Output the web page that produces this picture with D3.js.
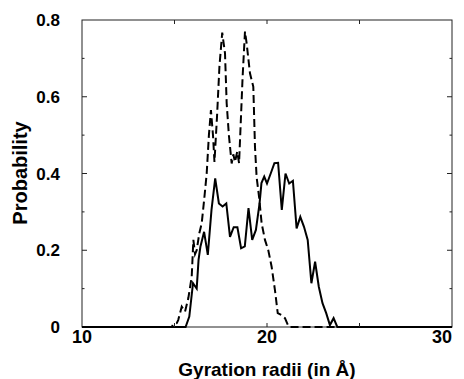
<!DOCTYPE html>
<html><head><meta charset="utf-8">
<script src="https://cdn.jsdelivr.net/npm/d3@7"></script>
<style>html,body{margin:0;padding:0;background:#fff}svg{display:block}text{font-family:"Liberation Sans",Arial,sans-serif;font-weight:bold}</style>
</head><body><svg id="c" width="464" height="379"></svg>
<script>
// Solid curve (radius in Å, probability)
const solidX = [10, 15.6, 15.8, 16.0, 16.2, 16.3, 16.4, 16.6, 16.8, 17.0, 17.2, 17.4, 17.6, 17.8, 18.0, 18.2, 18.4, 18.6, 18.8, 19.0, 19.2, 19.4, 19.6, 19.7, 19.85, 20.0, 20.2, 20.4, 20.6, 20.8, 21.0, 21.2, 21.4, 21.6, 21.8, 22.0, 22.2, 22.4, 22.6, 22.8, 23.0, 23.2, 23.4, 23.6, 23.8, 30];
const solidY = [0, 0, 0.027, 0.114, 0.10, 0.175, 0.209, 0.248, 0.188, 0.305, 0.387, 0.322, 0.314, 0.322, 0.235, 0.26, 0.26, 0.205, 0.21, 0.31, 0.227, 0.253, 0.323, 0.375, 0.392, 0.374, 0.40, 0.427, 0.428, 0.305, 0.40, 0.374, 0.381, 0.257, 0.287, 0.261, 0.227, 0.114, 0.170, 0.105, 0.062, 0.036, 0.005, 0.023, 0, 0];
// Dashed curve
const dashX = [10, 14.85, 14.94, 15.12, 15.2, 15.39, 15.57, 15.75, 15.93, 16.02, 16.11, 16.2, 16.34, 16.47, 16.6, 16.74, 16.86, 16.97, 17.08, 17.16, 17.3, 17.43, 17.58, 17.73, 17.82, 17.94, 18.09, 18.18, 18.27, 18.39, 18.49, 18.57, 18.68, 18.81, 18.9, 19.08, 19.26, 19.35, 19.44, 19.57, 19.71, 19.89, 20.07, 20.25, 20.43, 20.58, 20.79, 20.97, 21.15, 21.24, 30];
const dashY = [0, 0, 0.008, 0.01, 0.018, 0.053, 0.04, 0.076, 0.131, 0.227, 0.19, 0.20, 0.244, 0.27, 0.33, 0.40, 0.50, 0.565, 0.50, 0.43, 0.55, 0.68, 0.767, 0.713, 0.583, 0.50, 0.426, 0.45, 0.43, 0.457, 0.427, 0.52, 0.65, 0.77, 0.739, 0.661, 0.626, 0.47, 0.39, 0.34, 0.27, 0.227, 0.20, 0.157, 0.096, 0.036, 0.031, 0.023, 0.003, 0, 0];
const xTickLabels = [10, 20, 30];
const xTicksAll = [15, 20, 25];
const yTickLabels = [0, 0.2, 0.4, 0.6, 0.8];
const yMinorTicks = [0.1, 0.3, 0.5, 0.7];

const svg = d3.select("#c");
const L = 82, R = 452, T = 20, B = 327;
const x = d3.scaleLinear().domain([10, 30]).range([L, R]);
const y = d3.scaleLinear().domain([0, 0.8]).range([B, T]);

const line = d3.line().x(d => x(d[0])).y(d => y(d[1]));
const solid = solidX.map((v, i) => [v, solidY[i]]);
const dashed = dashX.map((v, i) => [v, dashY[i]]);

// frame
svg.append("rect").attr("x", L).attr("y", T).attr("width", R - L).attr("height", B - T)
  .attr("fill", "none").attr("stroke", "#222").attr("stroke-width", 1);

svg.append("path").datum(dashed).attr("d", line).attr("fill", "none")
  .attr("stroke", "#000").attr("stroke-width", 2).attr("stroke-dasharray", "8,4");
svg.append("path").datum(solid).attr("d", line).attr("fill", "none")
  .attr("stroke", "#000").attr("stroke-width", 2);

// ticks (inward, mirrored)
const tk = svg.append("g").attr("stroke", "#222").attr("stroke-width", 1);
xTicksAll.forEach(v => {
  tk.append("line").attr("x1", x(v)).attr("x2", x(v)).attr("y1", B).attr("y2", B - 4);
  tk.append("line").attr("x1", x(v)).attr("x2", x(v)).attr("y1", T).attr("y2", T + 4);
});
yTickLabels.slice(1, -1).forEach(v => {
  tk.append("line").attr("x1", L).attr("x2", L + 5).attr("y1", y(v)).attr("y2", y(v));
  tk.append("line").attr("x1", R).attr("x2", R - 5).attr("y1", y(v)).attr("y2", y(v));
});
yMinorTicks.forEach(v => {
  tk.append("line").attr("x1", L).attr("x2", L + 2.5).attr("y1", y(v)).attr("y2", y(v));
  tk.append("line").attr("x1", R).attr("x2", R - 2.5).attr("y1", y(v)).attr("y2", y(v));
});

// labels
svg.append("g").selectAll("text").data(yTickLabels).join("text")
  .attr("x", 60).attr("y", d => y(d)).attr("dy", "0.36em").attr("text-anchor", "end")
  .attr("font-size", 17).text(d => d === 0 ? "0" : d.toFixed(1));
svg.append("g").selectAll("text").data(xTickLabels).join("text")
  .attr("x", d => d === 30 ? x(d) - 10 : x(d)).attr("y", 343).attr("text-anchor", "middle")
  .attr("font-size", 18).text(d => d);
svg.append("text").attr("x", (L + R) / 2).attr("y", 376).attr("text-anchor", "middle")
  .attr("font-size", 19).text("Gyration radii (in Å)");
svg.append("text").attr("transform", `translate(27,${173}) rotate(-90)`)
  .attr("text-anchor", "middle").attr("font-size", 20).text("Probability");
</script></body></html>
